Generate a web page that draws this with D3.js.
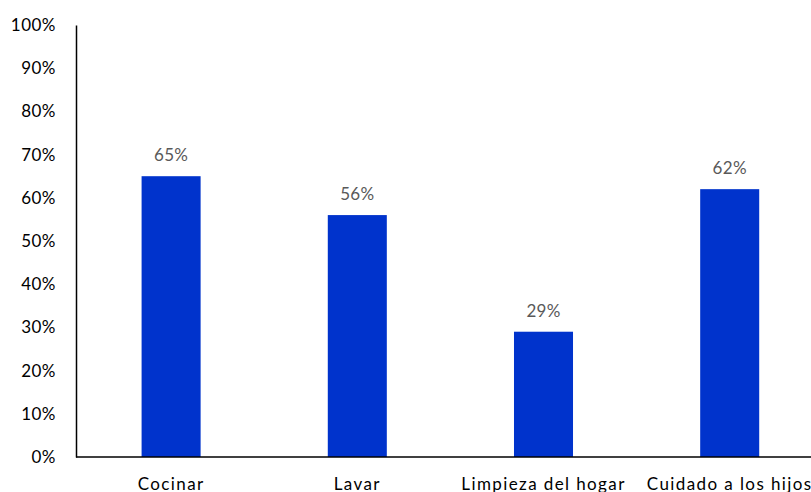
<!DOCTYPE html>
<html>
<head>
<meta charset="utf-8">
<script src="https://cdn.jsdelivr.net/npm/d3@7"></script>
<style>
  html, body { margin: 0; padding: 0; background: #fff; }
  svg { display: block; font-family: Lato, "Open Sans", sans-serif; }
</style>
</head>
<body>
<svg id="chart" width="811" height="492"></svg>
<script>
// Share of respondents per household task
const categories = ["Cocinar", "Lavar", "Limpieza del hogar", "Cuidado a los hijos"];
const values = [0.65, 0.56, 0.29, 0.62];
const yTicks = [0, 0.1, 0.2, 0.3, 0.4, 0.5, 0.6, 0.7, 0.8, 0.9, 1.0];

const svg = d3.select("#chart");
const axisX = 76, bandStart = 78, step = 186.2, plotTop = 25, plotBottom = 457;
const fontStack = "Lato, 'Open Sans', sans-serif";

const x = d3.scaleBand().domain(categories)
  .range([bandStart, bandStart + step * categories.length])
  .paddingInner(0.683).paddingOuter(0.3415);
const y = d3.scaleLinear().domain([0, 1]).range([plotBottom, plotTop]);
const pct = d3.format(".0%");

// Bars
svg.append("g").selectAll("rect").data(values).join("rect")
  .attr("x", (d, i) => x(categories[i]))
  .attr("y", d => y(d))
  .attr("width", x.bandwidth())
  .attr("height", d => y(0) - y(d))
  .attr("fill", "#0033CC");

// Value labels
svg.append("g").selectAll("text").data(values).join("text")
  .attr("x", (d, i) => x(categories[i]) + x.bandwidth() / 2)
  .attr("y", d => y(d) - 15)
  .attr("text-anchor", "middle")
  .attr("font-size", 17)
  .attr("letter-spacing", 0.3)
  .attr("fill", "#595959")
  .text(d => pct(d));

// Y axis: line plus labels, no tick marks
const yAxis = svg.append("g").attr("transform", `translate(${axisX},0)`)
  .call(d3.axisLeft(y).tickValues(yTicks).tickFormat(pct).tickSize(0).tickPadding(20));
yAxis.select(".domain").attr("stroke", "#000").attr("stroke-width", 1.5);
yAxis.selectAll("text").attr("font-size", 17).attr("letter-spacing", 0.5)
  .attr("fill", "#000").attr("font-family", fontStack);

// X axis: baseline across the plot and category labels
const xAxis = svg.append("g").attr("transform", `translate(0,${plotBottom})`)
  .call(d3.axisBottom(x).tickSize(0).tickPadding(21));
xAxis.select(".domain").attr("d", `M${axisX},0H811`).attr("stroke", "#000").attr("stroke-width", 1.5);
xAxis.selectAll("text").attr("font-size", 17).attr("letter-spacing", 1.4)
  .attr("fill", "#000").attr("font-family", fontStack);
</script>
</body>
</html>
